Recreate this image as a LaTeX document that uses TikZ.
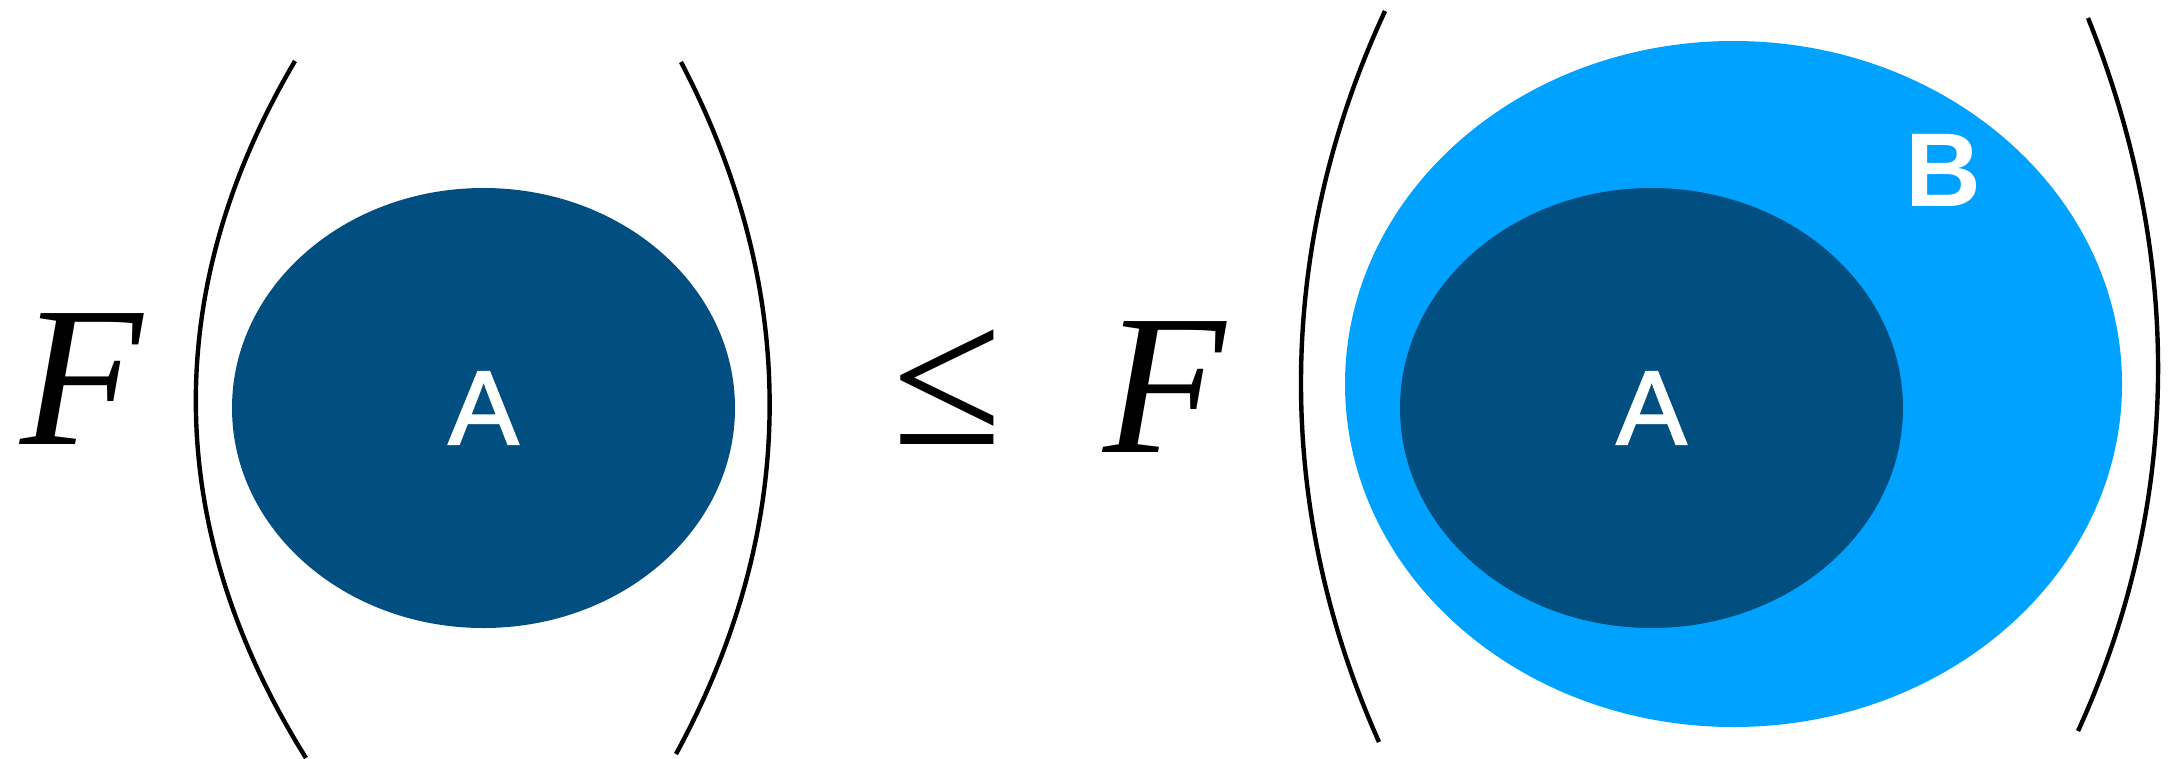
\documentclass[tikz,border=0pt]{standalone}
\usepackage{fontspec}
\setmainfont{Liberation Serif}
\newfontfamily\lsans[FakeBold=2]{Liberation Sans}
\newfontfamily\lsansbold{Liberation Sans Bold}
\usetikzlibrary{shapes.geometric}
\definecolor{setA}{RGB}{0,79,128}
\definecolor{setB}{RGB}{0,162,255}
\begin{document}
\begin{tikzpicture}[x=1pt,y=-1pt,
  paren/.style={draw=black,line width=4.4pt},
  setnode/.style={ellipse,inner sep=0pt,outer sep=0pt},
  setlabel/.style={text=white,inner sep=0pt,font=\lsans\fontsize{105}{120}\selectfont},
  mathsym/.style={inner sep=0pt,font=\fontsize{200}{240}\selectfont}]
\useasboundingbox (0,0) rectangle (2171,758);
\fill[white] (0,0) rectangle (2171,758);
% left side
\node[mathsym,anchor=base] (F1) at (82,444) {\itshape F};
\coordinate (lp1t) at (295,61);
\coordinate (lp1b) at (306,758);
\draw[paren] (lp1t) .. controls (161,288) and (161,526) .. (lp1b);
\node[setnode,fill=setA,minimum width=503pt,minimum height=440pt] (SA1) at (483.5,408) {};
\node[setlabel] (A1) at (SA1.center) {A};
\coordinate (rp1t) at (681,62);
\coordinate (rp1b) at (676,754);
\draw[paren] (rp1t) .. controls (800,290) and (800,526) .. (rp1b);
% relation
\node[mathsym,anchor=base] (leq) at (947,444) {≤};
% right side
\node[mathsym,anchor=base] (F2) at (1165,452) {\itshape F};
\coordinate (lp2t) at (1385,11);
\coordinate (lp2b) at (1379,742);
\draw[paren] (lp2t) .. controls (1274,250) and (1274,507) .. (lp2b);
\node[setnode,fill=setB,minimum width=777pt,minimum height=686pt] (SB) at (1733.5,384) {};
\node[setnode,fill=setA,minimum width=503pt,minimum height=440pt] (SA2) at (1651.5,408) {};
\node[setlabel] (A2) at (SA2.center) {A};
\node[setlabel,font=\lsansbold\fontsize{105}{120}\selectfont] (Blab) at (1943.5,170.5) {B};
\coordinate (rp2t) at (2088,18);
\coordinate (rp2b) at (2078,731);
\draw[paren] (rp2t) .. controls (2183,255) and (2183,501) .. (rp2b);
\end{tikzpicture}
\end{document}
